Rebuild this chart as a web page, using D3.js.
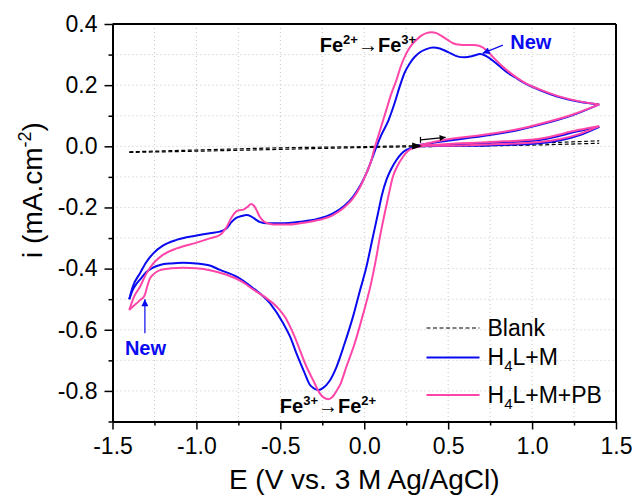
<!DOCTYPE html>
<html>
<head>
<meta charset="utf-8">
<script src="https://cdn.jsdelivr.net/npm/d3@7"></script>
<style>
  body { margin: 0; background: #fff; }
  text { font-family: "Liberation Sans", Arial, sans-serif; }
</style>
</head>
<body>
<div id="chart"></div>
<script>
// tick values / labels
var xMajor = [-1.5, -1.0, -0.5, 0.0, 0.5, 1.0, 1.5];
var xTickLabels = ["-1.5", "-1.0", "-0.5", "0.0", "0.5", "1.0", "1.5"];
var xMinor = [-1.25, -0.75, -0.25, 0.25, 0.75, 1.25];
var yMajor = [0.4, 0.2, 0.0, -0.2, -0.4, -0.6, -0.8];
var yTickLabels = ["0.4", "0.2", "0.0", "-0.2", "-0.4", "-0.6", "-0.8"];
var yMinor = [0.3, 0.1, -0.1, -0.3, -0.5, -0.7, -0.9];

// Blank (dashed), two branches of a very thin loop
var blankTop = [[-1.4,-0.018],[-1.0,-0.012],[-0.5,-0.005],[0.0,-0.001],[0.3,0.002],[0.7,0.006],[1.0,0.010],[1.4,0.018]];
var blankBottom = [[-1.4,-0.020],[-1.0,-0.016],[-0.5,-0.010],[0.0,-0.004],[0.5,0.000],[1.0,0.004],[1.4,0.010]];

// H4L+M, sweep by sweep
var blueStart = [[0.31,0.000],[0.45,0.001],[0.75,0.003],[1.045,0.010],[1.28,0.036],[1.4,0.064]];
var blueReverse = [[1.4,0.064],[1.28,0.050],[1.045,0.021],[0.75,0.011],[0.45,0.004],[0.33,0.000],[0.29,-0.004],[0.251,-0.012],[0.22,-0.025],[0.192,-0.045],[0.16,-0.075],[0.132,-0.110],[0.105,-0.160],[0.082,-0.219],[0.05,-0.300],[0.013,-0.394],[-0.027,-0.475],[-0.067,-0.557],[-0.12,-0.650],[-0.165,-0.721],[-0.21,-0.770],[-0.245,-0.790],[-0.272,-0.797],[-0.30,-0.792],[-0.324,-0.780],[-0.36,-0.735],[-0.404,-0.677],[-0.44,-0.625],[-0.483,-0.579],[-0.562,-0.513],[-0.662,-0.464],[-0.761,-0.426],[-0.86,-0.404],[-0.92,-0.390],[-1.0,-0.383],[-1.079,-0.381],[-1.15,-0.383],[-1.217,-0.388],[-1.26,-0.397],[-1.296,-0.410],[-1.33,-0.432],[-1.36,-0.452],[-1.38,-0.470],[-1.4,-0.500]];
var blueForward = [[-1.4,-0.500],[-1.38,-0.460],[-1.336,-0.415],[-1.30,-0.380],[-1.257,-0.350],[-1.20,-0.325],[-1.118,-0.306],[-1.0,-0.292],[-0.92,-0.284],[-0.86,-0.279],[-0.82,-0.268],[-0.79,-0.247],[-0.765,-0.235],[-0.73,-0.228],[-0.70,-0.225],[-0.675,-0.229],[-0.65,-0.238],[-0.62,-0.248],[-0.58,-0.252],[-0.50,-0.252],[-0.384,-0.247],[-0.28,-0.238],[-0.186,-0.219],[-0.12,-0.195],[-0.067,-0.165],[-0.02,-0.125],[0.013,-0.088],[0.04,-0.050],[0.073,-0.001],[0.10,0.035],[0.145,0.086],[0.18,0.140],[0.211,0.195],[0.24,0.240],[0.271,0.271],[0.30,0.292],[0.33,0.307],[0.37,0.318],[0.41,0.323],[0.45,0.320],[0.50,0.308],[0.549,0.295],[0.60,0.291],[0.65,0.296],[0.69,0.302],[0.72,0.297],[0.75,0.287],[0.80,0.265],[0.846,0.244],[0.90,0.225],[0.95,0.208],[1.045,0.184],[1.15,0.163],[1.283,0.146],[1.4,0.137]];
var blueEnd = [[1.4,0.137],[1.243,0.102],[1.045,0.070],[0.906,0.052],[0.747,0.037],[0.449,0.015],[0.31,0.003]];

// H4L+M+PB
var pinkStart = [[0.33,0.002],[0.45,0.002],[0.75,0.006],[1.045,0.014],[1.28,0.040],[1.4,0.066]];
var pinkReverse = [[1.4,0.066],[1.28,0.054],[1.045,0.025],[0.75,0.014],[0.45,0.006],[0.35,0.001],[0.31,-0.003],[0.26,-0.015],[0.231,-0.034],[0.20,-0.062],[0.171,-0.099],[0.145,-0.160],[0.122,-0.219],[0.092,-0.300],[0.073,-0.360],[0.04,-0.450],[-0.011,-0.557],[-0.06,-0.650],[-0.106,-0.720],[-0.14,-0.775],[-0.165,-0.800],[-0.19,-0.820],[-0.215,-0.827],[-0.24,-0.822],[-0.265,-0.808],[-0.30,-0.770],[-0.344,-0.721],[-0.424,-0.611],[-0.47,-0.560],[-0.523,-0.524],[-0.60,-0.490],[-0.662,-0.468],[-0.721,-0.445],[-0.82,-0.420],[-0.92,-0.405],[-1.0,-0.399],[-1.079,-0.397],[-1.15,-0.399],[-1.217,-0.405],[-1.255,-0.418],[-1.277,-0.432],[-1.295,-0.462],[-1.307,-0.485],[-1.318,-0.496],[-1.33,-0.500],[-1.345,-0.508],[-1.37,-0.520],[-1.4,-0.535]];
var pinkForward = [[-1.4,-0.535],[-1.37,-0.490],[-1.336,-0.459],[-1.30,-0.418],[-1.257,-0.383],[-1.20,-0.355],[-1.118,-0.334],[-1.0,-0.315],[-0.92,-0.301],[-0.86,-0.290],[-0.82,-0.264],[-0.79,-0.232],[-0.765,-0.214],[-0.745,-0.209],[-0.72,-0.207],[-0.695,-0.198],[-0.675,-0.189],[-0.66,-0.193],[-0.645,-0.205],[-0.625,-0.228],[-0.60,-0.245],[-0.56,-0.254],[-0.523,-0.256],[-0.45,-0.256],[-0.384,-0.252],[-0.28,-0.242],[-0.186,-0.225],[-0.12,-0.200],[-0.067,-0.170],[-0.02,-0.128],[0.013,-0.088],[0.04,-0.050],[0.062,-0.005],[0.09,0.045],[0.132,0.120],[0.16,0.170],[0.192,0.217],[0.22,0.265],[0.251,0.304],[0.28,0.330],[0.311,0.348],[0.34,0.362],[0.37,0.370],[0.40,0.373],[0.43,0.370],[0.469,0.358],[0.50,0.347],[0.529,0.337],[0.57,0.332],[0.608,0.331],[0.65,0.331],[0.688,0.328],[0.727,0.315],[0.77,0.290],[0.826,0.260],[0.90,0.228],[0.95,0.210],[1.045,0.186],[1.15,0.165],[1.283,0.147],[1.4,0.137]];
var pinkEnd = [[1.4,0.137],[1.243,0.104],[1.045,0.073],[0.906,0.055],[0.747,0.040],[0.449,0.018],[0.33,0.004]];

var series = [
    { name: "Blank", color: "#000", width: 1.2, dash: "4,2.5", parts: [blankTop, blankBottom] },
    { name: "H4L+M", color: "#0a0af0", width: 2, dash: null, parts: [blueStart, blueReverse, blueForward, blueEnd] },
    { name: "H4L+M+PB", color: "#ff45a8", width: 2, dash: null, parts: [pinkStart, pinkReverse, pinkForward, pinkEnd] }
];

var W = 634, H = 497;
var margin = { top: 24, right: 18, bottom: 75.5, left: 112.5 };
var width = W - margin.left - margin.right,
    height = H - margin.top - margin.bottom;

var svg = d3.select('#chart').append('svg')
    .attr('width', W)
    .attr('height', H)
    .append('g')
    .attr('transform', "translate(" + margin.left + "," + margin.top + ")");

var x = d3.scaleLinear().domain([-1.5, 1.5]).range([0, width]);
var y = d3.scaleLinear().domain([-0.9, 0.4]).range([height, 0]);

// dotted grid at every tick
var gx = xMajor.concat(xMinor).filter(function(d) { return d > -1.5 && d < 1.5; });
var gy = yMajor.concat(yMinor).filter(function(d) { return d > -0.9 && d < 0.4; });
svg.append('g').selectAll('line').data(gx).enter().append('line')
    .attr('x1', function(d) { return x(d); }).attr('x2', function(d) { return x(d); })
    .attr('y1', 0).attr('y2', height)
    .attr('stroke', '#c4c4c4').attr('stroke-width', 1).attr('stroke-dasharray', '1,3');
svg.append('g').selectAll('line').data(gy).enter().append('line')
    .attr('y1', function(d) { return y(d); }).attr('y2', function(d) { return y(d); })
    .attr('x1', 0).attr('x2', width)
    .attr('stroke', '#c4c4c4').attr('stroke-width', 1).attr('stroke-dasharray', '1,3');

var line = d3.line()
    .x(function(d) { return x(d[0]); })
    .y(function(d) { return y(d[1]); })
    .curve(d3.curveMonotoneX);

series.forEach(function(s) {
    s.parts.forEach(function(p) {
        var pts = p.slice().sort(function(a, b) { return a[0] - b[0]; });
        svg.append('path')
            .attr('d', line(pts))
            .attr('fill', 'none')
            .attr('stroke', s.color)
            .attr('stroke-width', s.width)
            .attr('stroke-dasharray', s.dash)
            .attr('stroke-linejoin', 'round');
    });
});

// arrow markers
var defs = svg.append('defs');
function marker(id, color, w, h) {
    defs.append('marker')
        .attr('id', id)
        .attr('viewBox', '0 0 10 10')
        .attr('refX', 10).attr('refY', 5)
        .attr('markerUnits', 'userSpaceOnUse')
        .attr('markerWidth', w).attr('markerHeight', h)
        .attr('orient', 'auto')
        .append('path')
        .attr('d', 'M0,0 L10,5 L0,10 Z')
        .attr('fill', color);
}
marker('arrBlue', '#0a0af0', 10, 7);
marker('arrBlack', '#000', 11, 6);

// scan direction arrow
var scanArrow = [[0.335, 0.021], [0.485, 0.0295]];
svg.append('line')
    .attr('x1', x(scanArrow[0][0])).attr('y1', y(scanArrow[0][1]))
    .attr('x2', x(scanArrow[1][0])).attr('y2', y(scanArrow[1][1]))
    .attr('stroke', '#000').attr('stroke-width', 1.2)
    .attr('marker-end', 'url(#arrBlack)');
svg.append('line')
    .attr('x1', x(scanArrow[0][0])).attr('y1', y(scanArrow[0][1]) - 3)
    .attr('x2', x(scanArrow[0][0])).attr('y2', y(scanArrow[0][1]) + 3)
    .attr('stroke', '#000').attr('stroke-width', 1.2);
// arrowhead on the blank trace
var blankHead = [0.345, 0.001];
svg.append('path')
    .attr('d', 'M0,0 L-10,-3.5 L-10,3.5 Z')
    .attr('transform', 'translate(' + x(blankHead[0]) + ',' + y(blankHead[1]) + ')')
    .attr('fill', '#000');

// "New" arrows
var newArrows = [[[0.826, 0.331], [0.705, 0.304]], [[-1.307, -0.611], [-1.307, -0.500]]];
newArrows.forEach(function(a) {
    svg.append('line')
        .attr('x1', x(a[0][0])).attr('y1', y(a[0][1]))
        .attr('x2', x(a[1][0])).attr('y2', y(a[1][1]))
        .attr('stroke', '#0a0af0').attr('stroke-width', 1.2)
        .attr('marker-end', 'url(#arrBlue)');
});

// annotations
function feLabel(px, py, a, b) {
    var t = svg.append('text')
        .attr('x', x(px)).attr('y', y(py))
        .attr('font-size', 20).attr('font-weight', 'bold').attr('fill', '#000');
    t.append('tspan').text('Fe');
    t.append('tspan').attr('font-size', 13).attr('dy', -8).text(a);
    t.append('tspan').attr('font-weight', 'normal').attr('dy', 8).text('\u2192');
    t.append('tspan').text('Fe');
    t.append('tspan').attr('font-size', 13).attr('dy', -8).text(b);
}
feLabel(-0.265, 0.309, '2+', '3+');
feLabel(-0.503, -0.873, '3+', '2+');

var newLabels = [[0.870, 0.317], [-1.426, -0.682]];
newLabels.forEach(function(p) {
    svg.append('text')
        .attr('x', x(p[0])).attr('y', y(p[1]))
        .attr('font-size', 20).attr('font-weight', 'bold')
        .attr('fill', '#0a0af0')
        .text('New');
});

// axes
var xAxis = svg.append('g')
    .attr('transform', 'translate(0,' + height + ')')
    .call(d3.axisBottom(x).tickValues(xMajor).tickSize(8).tickSizeOuter(0).tickPadding(8)
        .tickFormat(function(d, i) { return xTickLabels[i]; }));
svg.append('g')
    .attr('transform', 'translate(0,' + height + ')')
    .call(d3.axisBottom(x).tickValues(xMinor).tickSize(4).tickSizeOuter(0).tickFormat(''));
var yAxis = svg.append('g')
    .call(d3.axisLeft(y).tickValues(yMajor).tickSize(8).tickSizeOuter(0).tickPadding(7)
        .tickFormat(function(d, i) { return yTickLabels[i]; }));
svg.append('g')
    .call(d3.axisLeft(y).tickValues(yMinor).tickSize(4).tickSizeOuter(0).tickFormat(''));

svg.selectAll('.domain').attr('stroke', '#000').attr('stroke-width', 2);
svg.selectAll('.tick line').attr('stroke', '#000').attr('stroke-width', 1.5);
svg.selectAll('.tick text')
    .attr('font-family', '"Liberation Sans", Arial, sans-serif')
    .attr('font-size', 23).attr('fill', '#000');

// top and right frame
svg.append('line').attr('x1', 0).attr('x2', width).attr('y1', 0).attr('y2', 0)
    .attr('stroke', '#000').attr('stroke-width', 2);
svg.append('line').attr('x1', width).attr('x2', width).attr('y1', 0).attr('y2', height)
    .attr('stroke', '#000').attr('stroke-width', 2);

// axis titles
svg.append('text')
    .attr('x', width / 2).attr('y', height + 67)
    .attr('text-anchor', 'middle')
    .attr('font-size', 28)
    .text('E (V vs. 3 M Ag/AgCl)');

var yt = svg.append('text')
    .attr('transform', 'translate(' + (-71) + ',' + 166 + ') rotate(-90)')
    .attr('text-anchor', 'middle')
    .attr('font-size', 28);
yt.append('tspan').text('i (mA.cm');
yt.append('tspan').attr('font-size', 18).attr('dy', -11).text('-2');
yt.append('tspan').attr('dy', 11).text(')');

// legend
var legend = svg.append('g').attr('transform', 'translate(314,304)');
var legendRows = [0, 29.5, 67];
var legendText = [["Blank"], ["H", "4", "L+M"], ["H", "4", "L+M+PB"]];
series.forEach(function(s, i) {
    var g = legend.append('g').attr('transform', 'translate(0,' + legendRows[i] + ')');
    g.append('line').attr('x1', 0).attr('x2', 53).attr('y1', 0).attr('y2', 0)
        .attr('stroke', s.color).attr('stroke-width', s.name === 'Blank' ? 1 : 2)
        .attr('stroke-dasharray', s.dash);
    var t = g.append('text').attr('x', 61).attr('y', 7.5).attr('font-size', 23);
    var parts = legendText[i];
    t.append('tspan').text(parts[0]);
    if (parts.length > 1) {
        t.append('tspan').attr('font-size', 15).attr('dy', 6).text(parts[1]);
        t.append('tspan').attr('dy', -6).text(parts[2]);
    }
});
</script>
</body>
</html>
